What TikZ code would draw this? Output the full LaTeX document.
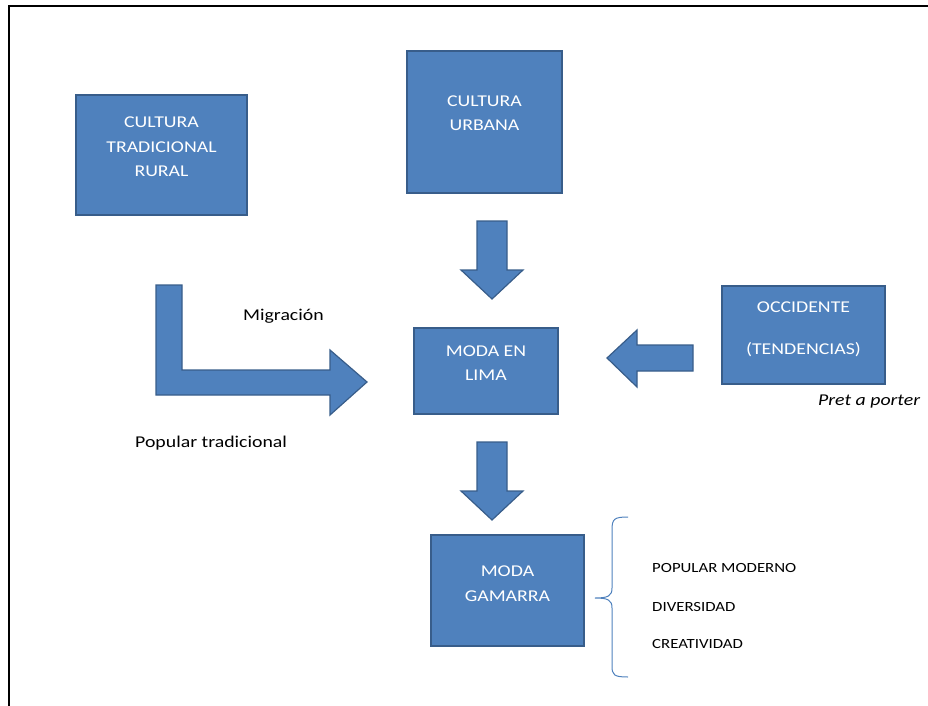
\documentclass[tikz,border=0pt]{standalone}
\usepackage{fontspec}
\setmainfont{Carlito}[FakeStretch=1.2]
\definecolor{boxblue}{HTML}{4F81BD}
\definecolor{boxedge}{HTML}{385D8A}
\tikzset{
  box/.style={draw=boxedge, fill=boxblue, line width=1.5pt, inner sep=0pt},
  boxtext/.style={text=white, align=center, font=\fontsize{16.5}{24.5}\selectfont},
  blockarrow/.style={draw=boxedge, fill=boxblue, line width=1.2pt, line join=miter},
  plain/.style={font=\fontsize{16.5}{18}\selectfont, anchor=west, inner sep=0pt},
  small/.style={font=\fontsize{14}{16}\selectfont, anchor=west, inner sep=0pt}
}
\begin{document}
\begin{tikzpicture}[x=1pt, y=-1pt]
\useasboundingbox (0,0) rectangle (928,706);
\draw[line width=2.5pt] (9,706) -- (9,6) -- (928,6);

\node[box, minimum width=171pt, minimum height=120pt] (rural) at (161.5,155) {};
\node[boxtext] (ruraltext) at ([yshift=8pt]rural.center) {CULTURA\\TRADICIONAL\\RURAL};
\node[box, minimum width=155pt, minimum height=142pt] (urbana) at (484.5,122) {};
\node[boxtext] (urbanatext) at ([yshift=9pt]urbana.center) {CULTURA\\URBANA};
\node[box, minimum width=144pt, minimum height=86pt] (lima) at (486,371) {};
\node[boxtext] (limatext) at ([yshift=8pt]lima.center) {MODA EN\\LIMA};
\node[box, minimum width=163pt, minimum height=98pt] (occidente) at (803.5,335) {};
\node[boxtext] (occidentetext) at ([yshift=6pt]occidente.center) {OCCIDENTE\\[17.5pt](TENDENCIAS)};
\node[box, minimum width=153pt, minimum height=111pt] (gamarra) at (507.5,590.5) {};
\node[boxtext] (gamarratext) at ([yshift=7pt]gamarra.center) {MODA\\GAMARRA};

\draw[blockarrow] (477,221) -- (507,221) -- (507,270) -- (523,270) -- (492,299) -- (461,270) -- (477,270) -- cycle;
\draw[blockarrow] (477,442) -- (507,442) -- (507,491) -- (523,491) -- (492,520) -- (461,491) -- (477,491) -- cycle;
\draw[blockarrow] (693,345) -- (693,371) -- (637,371) -- (637,387) -- (607,358) -- (637,330) -- (637,345) -- cycle;
\draw[blockarrow] (156,285) -- (182,285) -- (182,370) -- (330,370) -- (330,350) -- (367,382) -- (330,415) -- (330,395) -- (156,395) -- cycle;

\node[plain] (migracion) at (243,316) {Migración};
\node[plain] (popular) at (135,443) {Popular tradicional};
\node[plain, font=\fontsize{16.5}{18}\selectfont\itshape] (pret) at (818,402) {Pret a porter};

\draw[boxblue, line width=1pt] (628,517) .. controls (614,517) and (612,519) .. (612,530) -- (612,588)
  .. controls (612,596) and (608,598) .. (595,598) .. controls (608,598) and (612,600) .. (612,608)
  -- (612,666) .. controls (612,675) and (614,677) .. (628,677);
\node[small] (moderno) at (652,568) {POPULAR MODERNO};
\node[small] (diversidad) at (652,607) {DIVERSIDAD};
\node[small] (creatividad) at (652,644) {CREATIVIDAD};
\end{tikzpicture}
\end{document}
